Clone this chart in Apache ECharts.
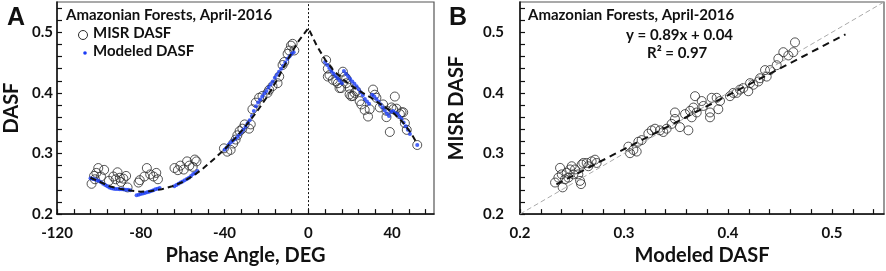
<!DOCTYPE html>
<html>
<head>
<meta charset="utf-8">
<script src="https://cdn.jsdelivr.net/npm/echarts@6/dist/echarts.min.js"></script>
<style>
  html, body { margin: 0; padding: 0; background: #fff; }
  #chart { width: 886px; height: 271px; }
</style>
</head>
<body>
<div id="chart"></div>
<script>
// ---- panel A: DASF vs phase angle ----
const misrAngle = [
  -103.5, -102.3, -101.9, -101.2, -100.3, -99, -97.5, -95.2, -93.1, -92, -91.1, -90, -89.5, -88.3, -87, -86.3,
  -81.1, -80.5, -78.3, -77.1, -75.5, -73.9, -72.6, -71.8,
  -63.9, -62.3, -61.1, -59.5, -57.9, -56.8, -55.2, -54.2, -53.4,
  -40.3, -38.7, -37.1, -35.9, -34.7, -33.9, -32.8, -31.5, -30.4, -28.3, -27.5, -26.7, -25.1, -23.5, -21.9,
  -19.5, -18.7, -17.1, -14.7, -13.9, -12.3, -11.5, -9.9, -9.1, -8.3, -7.5, -6.7,
  8.5, 9.3, 9.3, 10.1, 11.7, 13.3, 14.1, 14.9, 15.7, 16.5, 17.3, 18.1, 18.1, 19.7, 19.7, 20.5, 21.3, 22.1,
  22.9, 24.5, 25.3, 26.9, 28.5, 29.3, 30.9, 31.7, 32.5, 34.1, 35.7, 37.3, 37.3, 38.9, 39.7, 40.5, 41.3,
  42.1, 43.7, 44.5, 45.3, 46.1, 47, 52
];
const misrDasf = [
  0.250, 0.263, 0.2575, 0.268, 0.276, 0.262, 0.273, 0.255, 0.262, 0.2575, 0.269, 0.260, 0.253, 0.2585, 0.263, 0.244,
  0.252, 0.256, 0.262, 0.276, 0.2655, 0.262, 0.268, 0.2575,
  0.276, 0.2725, 0.280, 0.2735, 0.287, 0.280, 0.278, 0.290, 0.287,
  0.3085, 0.303, 0.306, 0.3165, 0.323, 0.330, 0.337, 0.341, 0.348, 0.341, 0.348, 0.373, 0.384, 0.392, 0.395,
  0.400, 0.405, 0.411, 0.416, 0.427, 0.446, 0.451, 0.4645, 0.470, 0.478, 0.481, 0.470,
  0.454, 0.440, 0.427, 0.4295, 0.4215, 0.419, 0.416, 0.408, 0.408, 0.435, 0.427, 0.424, 0.416, 0.408, 0.3975, 0.3945, 0.395, 0.400,
  0.403, 0.3865, 0.381, 0.372, 0.361, 0.373, 0.4055, 0.397, 0.392, 0.376, 0.381, 0.3705, 0.360, 0.3355, 0.376, 0.373, 0.394,
  0.374, 0.365, 0.368, 0.368, 0.350, 0.339, 0.314
];

const modeledAngle = [
  -104, -103, -102, -101, -100, -99, -98, -97, -96, -95, -94, -93, -92, -91, -90, -89, -88, -87, -86, -85,
  -82, -81, -80, -79, -78, -77, -76, -75, -74, -73, -72, -71,
  -64, -63, -62, -61, -60, -59, -58, -57, -56, -55, -54, -53,
  -40, -39, -38, -37, -36, -35, -34, -33, -32, -31, -30, -29, -28, -27, -26, -25, -24, -23, -22, -21,
  -20, -19, -18, -17, -16, -15, -14, -13, -12, -11, -10, -9, -8, -7,
  8, 9, 10, 11, 12, 13, 14, 15, 16, 17, 18, 19, 20, 21, 22, 23, 24, 25, 26, 27, 28, 29,
  30.5, 31.5, 32.5, 33.5, 34.5, 35.5, 36.5, 37.5, 38.5, 39.5, 40.5, 41.5, 42.5, 43.5, 44.5, 45.5, 46.5, 47.5, 48.5, 52
];
const modeledDasf = [
  0.259, 0.2585, 0.2575, 0.256, 0.2545, 0.2525, 0.250, 0.248, 0.246, 0.244, 0.2425, 0.242, 0.2415, 0.2415, 0.241, 0.241, 0.2405, 0.240, 0.240, 0.2395,
  0.231, 0.232, 0.233, 0.234, 0.235, 0.236, 0.237, 0.238, 0.2395, 0.241, 0.242, 0.243,
  0.246, 0.248, 0.250, 0.252, 0.254, 0.256, 0.258, 0.260, 0.263, 0.266, 0.268, 0.271,
  0.306, 0.310, 0.315, 0.318, 0.321, 0.324, 0.327, 0.331, 0.335, 0.339, 0.344, 0.350, 0.355, 0.362, 0.370, 0.378, 0.384, 0.389, 0.394, 0.399,
  0.403, 0.409, 0.414, 0.419, 0.425, 0.430, 0.435, 0.440, 0.445, 0.450, 0.456, 0.460, 0.464, 0.467,
  0.451, 0.446, 0.441, 0.436, 0.432, 0.428, 0.424, 0.420, 0.416, 0.436, 0.431, 0.427, 0.423, 0.419, 0.415, 0.411, 0.406, 0.401, 0.396, 0.390, 0.386, 0.382,
  0.397, 0.394, 0.390, 0.386, 0.381, 0.376, 0.371, 0.366, 0.362, 0.369, 0.370, 0.367, 0.365, 0.361, 0.357, 0.351, 0.345, 0.339, 0.332, 0.314
];

// model curve (black dashed)
const curveAngle = [-104, -100, -95, -90, -85, -80, -75, -70, -65, -60, -55, -50, -45, -40, -35, -30, -25, -20, -15, -10, -5, 0,
  4, 8, 12, 16, 20, 25, 30, 35, 40, 45, 49, 52];
const curveDasf = [0.260, 0.254, 0.246, 0.242, 0.239, 0.237, 0.238, 0.241, 0.246, 0.253, 0.263, 0.276, 0.291, 0.307, 0.325, 0.345, 0.367, 0.392, 0.421, 0.454, 0.484, 0.507,
  0.478, 0.455, 0.437, 0.424, 0.413, 0.402, 0.392, 0.380, 0.369, 0.352, 0.334, 0.316];

// ---- panel B: MISR vs modeled ----
const scatterModeled = [
  0.2337, 0.2369, 0.2385, 0.2401, 0.2410, 0.2433, 0.2449, 0.2465, 0.2481, 0.2497, 0.2513, 0.2529, 0.2561, 0.2577, 0.2587, 0.2593, 0.2609, 0.2641, 0.2657, 0.2689, 0.2721, 0.2737,
  0.3042, 0.3058, 0.3090, 0.3122, 0.3138, 0.3170, 0.3234, 0.3266, 0.3298, 0.3346, 0.3378, 0.3410, 0.3458, 0.3490, 0.3490, 0.3538, 0.3587, 0.3619, 0.3635, 0.3651, 0.3667,
  0.3683, 0.3699, 0.3747, 0.3763, 0.3827, 0.3827, 0.3843, 0.3891, 0.3907, 0.3923, 0.4019, 0.4051, 0.4083, 0.4115, 0.4147, 0.4195, 0.4212, 0.4244, 0.4292, 0.4308,
  0.4356, 0.4372, 0.4404, 0.4468, 0.4484, 0.4532, 0.4580, 0.4628, 0.4644
];
const scatterMisr = [
  0.2521, 0.2602, 0.2763, 0.2656, 0.2441, 0.2575, 0.2683, 0.2602, 0.2737, 0.2790, 0.2656, 0.2737, 0.2656, 0.2548, 0.2495, 0.2817, 0.2844, 0.2844, 0.2790, 0.2871, 0.2898, 0.2844,
  0.3113, 0.3005, 0.3059, 0.3032, 0.3194, 0.3221, 0.3328, 0.3382, 0.3409, 0.3382, 0.3355, 0.3409, 0.3489, 0.3677, 0.3570, 0.3435, 0.3650, 0.3382, 0.3704, 0.3597, 0.3758,
  0.3946, 0.3677, 0.3866, 0.3785, 0.3677, 0.3597, 0.3919, 0.3919, 0.3731, 0.3866, 0.3946, 0.4000, 0.4000, 0.4054, 0.4081, 0.4027, 0.4161, 0.4134, 0.4188, 0.4242,
  0.4376, 0.4269, 0.4376, 0.4457, 0.4565, 0.4672, 0.4618, 0.4672, 0.4834
];
const oneToOne = [0.2, 0.55];
const fitX = [0.235, 0.513];
const fitSlope = 0.89;
const fitIntercept = 0.04;

const FONT = "Lato, 'Open Sans', sans-serif";
const BLUE = "#1a3cf5";
const pairs = (xs, ys) => xs.map((x, i) => [x, ys[i]]);
const tenth = (v) => Math.abs(v * 10 - Math.round(v * 10)) < 1e-6;

const tickLabel = { color: "#111", fontFamily: FONT, fontWeight: "bold", fontSize: 15 };
const axisName = { color: "#111", fontFamily: FONT, fontWeight: "bold", fontSize: 20 };
const axisLine = { show: true, onZero: false, lineStyle: { color: "#111", width: 1.5 } };
const axisTick = { show: true, inside: true, length: 5, lineStyle: { color: "#111", width: 1.2 } };
const noteFont = `bold 15px ${FONT}`;

const circleStyle = { color: "rgba(255,255,255,0)", borderColor: "#2a2a2a", borderWidth: 1 };

const chart = echarts.init(document.getElementById("chart"));

chart.setOption({
  animation: false,
  backgroundColor: "#fff",
  grid: [
    { left: 57, top: 2, width: 377, height: 217, show: true, borderColor: "#555", borderWidth: 1.2 },
    { left: 520, top: 2, width: 364, height: 217, show: true, borderColor: "#555", borderWidth: 1.2 },
  ],
  xAxis: [
    {
      gridIndex: 0, type: "value", min: -120, max: 60, interval: 8,
      name: "Phase Angle, DEG", nameLocation: "middle", nameGap: 23, nameTextStyle: axisName,
      axisLine, axisTick, splitLine: { show: false },
      axisLabel: { ...tickLabel, margin: 12, showMaxLabel: false, formatter: (v) => (v % 40 === 0 ? String(v) : "") },
    },
    {
      gridIndex: 1, type: "value", min: 0.2, max: 0.55, interval: 0.02,
      name: "Modeled DASF", nameLocation: "middle", nameGap: 23, nameTextStyle: axisName,
      axisLine, axisTick, splitLine: { show: false },
      axisLabel: { ...tickLabel, margin: 12, showMaxLabel: false, formatter: (v) => (tenth(v) ? v.toFixed(1) : "") },
    },
  ],
  yAxis: [
    {
      gridIndex: 0, type: "value", min: 0.2, max: 0.55, interval: 0.02,
      name: "DASF", nameLocation: "middle", nameGap: 35, nameTextStyle: axisName,
      axisLine, axisTick, splitLine: { show: false },
      axisLabel: { ...tickLabel, margin: 4, showMaxLabel: false, formatter: (v) => (tenth(v) ? v.toFixed(1) : "") },
    },
    {
      gridIndex: 1, type: "value", min: 0.2, max: 0.55, interval: 0.02,
      name: "MISR DASF", nameLocation: "middle", nameGap: 53, nameTextStyle: axisName,
      axisLine, axisTick, splitLine: { show: false },
      axisLabel: { ...tickLabel, margin: 16, showMaxLabel: false, formatter: (v) => (tenth(v) ? v.toFixed(1) : "") },
    },
  ],
  graphic: [
    { type: "text", left: 7, top: 6, style: { text: "A", font: "bold 25px 'Liberation Sans', Arial, sans-serif", fill: "#111" } },
    { type: "text", left: 449, top: 6, style: { text: "B", font: "bold 25px 'Liberation Sans', Arial, sans-serif", fill: "#111" } },
    { type: "text", left: 66, top: 8, style: { text: "Amazonian Forests, April-2016", font: noteFont, fill: "#111" } },
    { type: "circle", shape: { cx: 83, cy: 35, r: 4.5 }, style: { fill: "none", stroke: "#2a2a2a", lineWidth: 1 } },
    { type: "text", left: 93, top: 26, style: { text: "MISR DASF", font: noteFont, fill: "#111" } },
    { type: "circle", shape: { cx: 85, cy: 53, r: 1.8 }, style: { fill: BLUE } },
    { type: "text", left: 93, top: 44, style: { text: "Modeled DASF", font: noteFont, fill: "#111" } },
    { type: "text", left: 528, top: 8, style: { text: "Amazonian Forests, April-2016", font: noteFont, fill: "#111" } },
    { type: "text", left: 626, top: 28, style: { text: "y = 0.89x + 0.04", font: noteFont, fill: "#111" } },
    { type: "text", left: 647, top: 46, style: { text: "R\u00b2 = 0.97", font: noteFont, fill: "#111" } },
  ],
  series: [
    {
      name: "MISR DASF", type: "scatter", xAxisIndex: 0, yAxisIndex: 0,
      symbol: "circle", symbolSize: 9, itemStyle: circleStyle,
      data: pairs(misrAngle, misrDasf),
      markLine: {
        silent: true, symbol: "none", label: { show: false },
        lineStyle: { color: "#111", type: [2, 2], width: 1 },
        data: [{ xAxis: 0 }],
      },
    },
    {
      name: "Model", type: "line", xAxisIndex: 0, yAxisIndex: 0,
      showSymbol: false, lineStyle: { color: "#111", width: 2, type: [6, 4] },
      data: pairs(curveAngle, curveDasf),
    },
    {
      name: "Modeled DASF", type: "scatter", xAxisIndex: 0, yAxisIndex: 0,
      symbol: "circle", symbolSize: 4, itemStyle: { color: BLUE },
      data: pairs(modeledAngle, modeledDasf),
    },
    {
      name: "1:1", type: "line", xAxisIndex: 1, yAxisIndex: 1,
      showSymbol: false, lineStyle: { color: "#aaa", width: 1, type: [5, 3] },
      data: pairs(oneToOne, oneToOne),
    },
    {
      name: "MISR vs Modeled", type: "scatter", xAxisIndex: 1, yAxisIndex: 1,
      symbol: "circle", symbolSize: 9, itemStyle: circleStyle,
      data: pairs(scatterModeled, scatterMisr),
    },
    {
      name: "Fit", type: "line", xAxisIndex: 1, yAxisIndex: 1,
      showSymbol: false, lineStyle: { color: "#111", width: 2, type: [7, 5] },
      data: fitX.map((x) => [x, fitSlope * x + fitIntercept]),
    },
  ],
});
</script>
</body>
</html>
